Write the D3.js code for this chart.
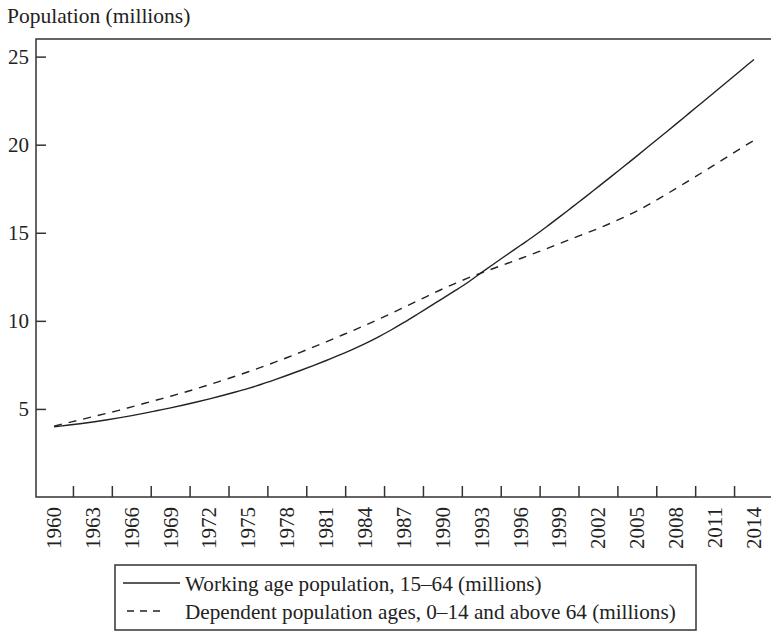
<!DOCTYPE html>
<html>
  <head>
    <meta http-equiv="Content-Type" content="text/html; charset=UTF-8">
    <style type="text/css">
      body { margin: 0; background: #fff; }
      text { font-family: 'Liberation Serif', serif; fill: #222; }
      .axis line, .axis path { stroke: #333; }
    </style>
  </head>
  <body>
    <div id="canvas"></div>
    <script type="text/javascript" src="https://d3js.org/d3.v7.min.js"></script>
    <script type="text/javascript">
    // values, millions
    var years = d3.range(1960, 2015);
    var working = [
      3.98, 4.07, 4.16, 4.26, 4.37, 4.49, 4.62, 4.76, 4.91, 5.06,
      5.22, 5.39, 5.57, 5.76, 5.96, 6.17, 6.40, 6.65, 6.91, 7.18,
      7.46, 7.75, 8.05, 8.37, 8.71, 9.08, 9.48, 9.91, 10.36, 10.82,
      11.28, 11.74, 12.22, 12.75, 13.27, 13.78, 14.29, 14.80, 15.34, 15.90,
      16.47, 17.04, 17.62, 18.20, 18.79, 19.38, 19.98, 20.58, 21.18, 21.79,
      22.40, 23.01, 23.62, 24.23, 24.84
    ];
    var dependent = [
      4.02, 4.20, 4.38, 4.56, 4.74, 4.92, 5.12, 5.32, 5.52, 5.72,
      5.93, 6.15, 6.38, 6.62, 6.86, 7.11, 7.37, 7.64, 7.92, 8.21,
      8.51, 8.81, 9.12, 9.43, 9.75, 10.08, 10.42, 10.77, 11.12, 11.47,
      11.82, 12.14, 12.45, 12.73, 13.00, 13.27, 13.54, 13.82, 14.10, 14.39,
      14.68, 14.96, 15.25, 15.56, 15.89, 16.25, 16.65, 17.08, 17.52, 17.97,
      18.42, 18.88, 19.34, 19.80, 20.25
    ];
    var tickYears = d3.range(1960, 2015, 3);
    var yTicks = [5, 10, 15, 20, 25];
    var seriesNames = [
      'Working age population, 15\u201364 (millions)',
      'Dependent population ages, 0\u201314 and above 64 (millions)'
    ];

    var width = 771, height = 634;
    var plotLeft = 36, plotTop = 39, plotBottom = 497;

    var svg = d3.select('#canvas').append('svg')
      .attr('width', width)
      .attr('height', height);

    var x = d3.scaleLinear().domain([1960, 2014]).range([54, 754]);
    var y = d3.scaleLinear().domain([0, 26]).range([plotBottom, plotTop]);

    // frame: left, top, bottom (open on the right)
    svg.append('path')
      .attr('d', 'M' + width + ',' + plotTop + 'H' + plotLeft + 'V' + plotBottom + 'H' + width)
      .attr('fill', 'none')
      .attr('stroke', '#333')
      .attr('stroke-width', 1.5);

    // y axis, ticks inward
    var yAxis = svg.append('g')
      .attr('class', 'axis')
      .attr('transform', 'translate(' + plotLeft + ',0)')
      .call(d3.axisRight(y).tickValues(yTicks).tickSize(10).tickFormat(''));
    yAxis.select('.domain').remove();
    yAxis.selectAll('line').attr('stroke-width', 1.5);

    svg.selectAll('.ylab')
      .data(yTicks)
      .enter().append('text')
      .attr('class', 'ylab')
      .attr('x', 29)
      .attr('y', function (d) { return y(d); })
      .attr('dy', '0.35em')
      .attr('text-anchor', 'end')
      .style('font-size', '21px')
      .text(function (d) { return d; });

    // x ticks sit between the labelled years, pointing up
    svg.selectAll('.xtick')
      .data(tickYears.slice(0, -1))
      .enter().append('line')
      .attr('class', 'xtick')
      .attr('x1', function (d) { return x(d + 1.5); })
      .attr('x2', function (d) { return x(d + 1.5); })
      .attr('y1', plotBottom)
      .attr('y2', plotBottom - 11)
      .attr('stroke', '#333')
      .attr('stroke-width', 1.5);

    svg.selectAll('.xlab')
      .data(tickYears)
      .enter().append('text')
      .attr('class', 'xlab')
      .attr('transform', function (d) {
        return 'translate(' + (x(d) - 0.5) + ',507) rotate(-90)';
      })
      .attr('dy', '0.35em')
      .attr('text-anchor', 'end')
      .style('font-size', '21px')
      .text(function (d) { return d; });

    svg.append('text')
      .attr('x', 7)
      .attr('y', 23)
      .style('font-size', '21.5px')
      .text('Population (millions)');

    var line = d3.line()
      .x(function (d, i) { return x(years[i]); })
      .y(function (d) { return y(d); })
      .curve(d3.curveMonotoneX);

    svg.append('path')
      .datum(working)
      .attr('d', line)
      .attr('fill', 'none')
      .attr('stroke', '#222')
      .attr('stroke-width', 1.4);

    svg.append('path')
      .datum(dependent)
      .attr('d', line)
      .attr('fill', 'none')
      .attr('stroke', '#222')
      .attr('stroke-width', 1.4)
      .attr('stroke-dasharray', '8,7');

    // legend
    svg.append('rect')
      .attr('x', 115).attr('y', 565)
      .attr('width', 581).attr('height', 65)
      .attr('fill', 'none')
      .attr('stroke', '#333')
      .attr('stroke-width', 1.5);

    var leg = svg.selectAll('.leg')
      .data(seriesNames)
      .enter().append('g')
      .attr('class', 'leg')
      .attr('transform', function (d, i) { return 'translate(0,' + (583 + i * 28) + ')'; });

    leg.append('line')
      .attr('x1', function (d, i) { return i ? 127 : 123; })
      .attr('x2', function (d, i) { return i ? 161 : 180; })
      .attr('stroke', '#222')
      .attr('stroke-width', 1.4)
      .attr('stroke-dasharray', function (d, i) { return i ? '7,6' : null; });

    leg.append('text')
      .attr('x', 185)
      .attr('y', 1)
      .attr('dy', '0.35em')
      .style('font-size', '21.2px')
      .text(function (d) { return d; });
    </script>
  </body>
</html>
